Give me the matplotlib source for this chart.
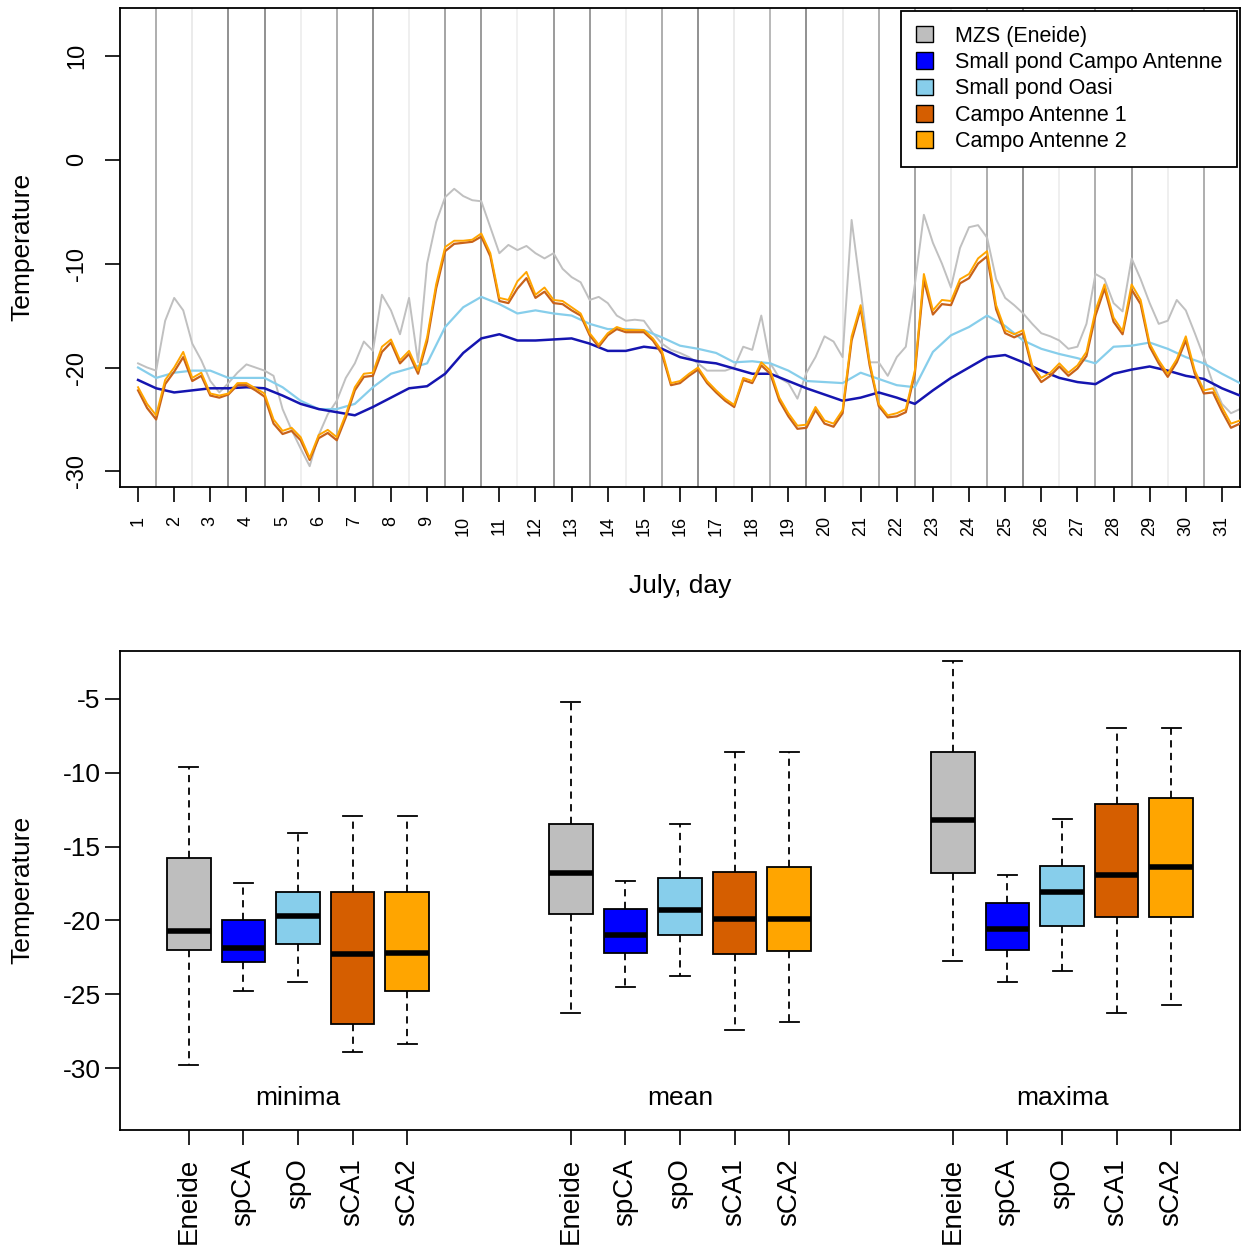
import numpy as np
import matplotlib.pyplot as plt
from matplotlib.patches import Patch

plt.rcParams['font.family'] = ['Liberation Sans', 'DejaVu Sans']

# July series, quarter-day samples starting on day 1
mzs = [-19.6, -20.0, -20.3, -15.5, -13.3, -14.5, -17.7, -19.3,
       -21.3, -22.4, -21.5, -20.5, -19.7, -20.0, -20.3, -20.8,
       -24.0, -26.0, -27.8, -29.5, -26.5, -24.5, -23.2, -21.0,
       -19.6, -17.5, -18.4, -13.0, -14.5, -16.8, -13.3, -19.5,
       -10.0, -6.0, -3.6, -2.8, -3.5, -3.9, -4.0, -6.5,
       -9.0, -8.2, -8.7, -8.3, -9.0, -9.5, -9.0, -10.5,
       -11.3, -11.8, -13.5, -13.2, -13.8, -15.0, -15.5, -15.4,
       -15.5, -16.7, -17.7, -18.3, -18.6, -19.0, -19.6, -20.3,
       -20.3, -20.3, -20.0, -18.0, -18.3, -15.0, -19.6, -21.0,
       -21.5, -23.0, -20.5, -19.0, -17.0, -17.5, -19.0, -5.8,
       -12.5, -19.5, -19.5, -20.8, -19.0, -18.0, -12.0, -5.3,
       -8.0, -10.0, -12.3, -8.5, -6.5, -6.3, -7.5, -11.5,
       -13.3, -14.0, -14.8, -15.8, -16.7, -17.0, -17.4, -18.2,
       -18.0, -15.8, -11.0, -11.5, -13.8, -14.6, -9.5, -11.5,
       -13.8, -15.8, -15.5, -13.5, -14.5, -16.7, -19.0, -21.5,
       -23.5, -24.4, -24.0]
ca1 = [-22.2, -23.9, -25.0, -21.6, -20.4, -19.0, -21.3, -20.8,
       -22.7, -22.9, -22.6, -21.7, -21.7, -22.2, -22.8, -25.4,
       -26.4, -26.1, -27.0, -28.9, -26.8, -26.3, -27.0, -24.8,
       -22.2, -20.9, -20.8, -18.5, -17.6, -19.6, -18.7, -20.6,
       -17.5, -12.4, -8.8, -8.1, -8.0, -7.9, -7.4, -9.3,
       -13.6, -13.8, -12.4, -11.4, -13.3, -12.7, -13.8, -13.9,
       -14.5, -15.0, -16.9, -18.0, -16.9, -16.3, -16.6, -16.6,
       -16.6, -17.4, -18.7, -21.7, -21.5, -20.8, -20.2, -21.5,
       -22.4, -23.2, -23.8, -21.2, -21.5, -19.8, -20.6, -23.2,
       -24.7, -25.9, -25.8, -24.1, -25.4, -25.7, -24.4, -17.4,
       -14.3, -19.8, -23.7, -24.8, -24.7, -24.3, -20.6, -11.6,
       -14.9, -13.9, -14.0, -11.9, -11.4, -10.0, -9.3, -14.4,
       -16.7, -17.1, -16.7, -20.1, -21.4, -20.8, -19.9, -20.8,
       -20.1, -18.9, -15.0, -12.4, -15.6, -16.8, -12.5, -13.9,
       -18.0, -19.6, -20.9, -19.5, -17.4, -20.6, -22.5, -22.4,
       -24.2, -25.8, -25.4]
ca2 = [-21.9, -23.5, -24.6, -21.2, -20.0, -18.5, -21.0, -20.5,
       -22.5, -22.7, -22.5, -21.5, -21.5, -22.0, -22.5, -25.0,
       -26.1, -25.8, -26.7, -28.7, -26.5, -26.0, -26.7, -24.5,
       -21.9, -20.6, -20.5, -18.0, -17.3, -19.3, -18.4, -20.3,
       -17.1, -12.0, -8.4, -7.8, -7.8, -7.7, -7.1, -9.0,
       -13.3, -13.5, -11.7, -10.8, -13.0, -12.3, -13.5, -13.6,
       -14.2, -14.8, -16.7, -17.8, -16.7, -16.1, -16.4, -16.4,
       -16.4, -17.2, -18.4, -21.5, -21.3, -20.6, -20.0, -21.3,
       -22.2, -23.0, -23.6, -21.0, -21.3, -19.5, -20.3, -22.9,
       -24.4, -25.6, -25.5, -23.8, -25.1, -25.4, -24.1, -17.0,
       -14.0, -19.5, -23.5, -24.6, -24.4, -24.0, -20.3, -11.0,
       -14.5, -13.5, -13.6, -11.5, -11.0, -9.5, -8.8, -14.0,
       -16.4, -16.8, -16.4, -19.8, -21.0, -20.5, -19.6, -20.5,
       -19.8, -18.5, -14.5, -12.0, -15.2, -16.5, -12.0, -13.5,
       -17.7, -19.3, -20.6, -19.2, -17.0, -20.3, -22.2, -22.0,
       -23.8, -25.4, -25.1]

# small ponds, half-day samples starting on day 1
sp_campo = [-21.2, -22.0, -22.4, -22.2, -22.0, -22.0, -21.9, -22.0,
            -22.7, -23.5, -24.0, -24.3, -24.6, -23.8, -22.9, -22.0,
            -21.8, -20.6, -18.6, -17.2, -16.8, -17.4, -17.4, -17.3,
            -17.2, -17.7, -18.4, -18.4, -18.0, -18.2, -19.0, -19.4,
            -19.6, -20.1, -20.6, -20.6, -21.3, -22.0, -22.6, -23.2,
            -22.9, -22.4, -22.9, -23.5, -22.2, -21.0, -20.0, -19.0,
            -18.8, -19.5, -20.3, -21.0, -21.4, -21.6, -20.6, -20.2,
            -19.9, -20.3, -20.8, -21.1, -22.0, -22.7]
sp_oasi = [-20.0, -21.0, -20.5, -20.3, -20.3, -21.0, -21.0, -21.0,
           -21.9, -23.2, -24.0, -24.0, -23.5, -21.9, -20.6, -20.1,
           -19.6, -16.1, -14.2, -13.2, -13.9, -14.8, -14.5, -14.8,
           -15.0, -15.8, -16.3, -16.3, -16.4, -17.1, -17.9, -18.2,
           -18.6, -19.5, -19.4, -19.6, -20.3, -21.3, -21.4, -21.5,
           -20.5, -21.1, -21.7, -21.9, -18.5, -16.9, -16.1, -15.0,
           -16.0, -17.4, -18.2, -18.7, -19.1, -19.6, -18.0, -17.9,
           -17.6, -18.2, -19.0, -19.6, -20.6, -21.5]

# grey level of the separator drawn after each day (1..30)
sep_grey = [0.6, 0.9, 0.45, 0.45, 0.92, 0.6, 0.45, 0.92, 0.55, 0.5,
            0.93, 0.5, 0.5, 0.92, 0.6, 0.45, 0.9, 0.65, 0.45, 0.9,
            0.6, 0.55, 0.9, 0.6, 0.45, 0.92, 0.6, 0.5, 0.92, 0.6]

days = list(range(1, 32))

series_names = ['MZS (Eneide)', 'Small pond Campo Antenne', 'Small pond Oasi',
                'Campo Antenne 1', 'Campo Antenne 2']
fill_colors = ['#BEBEBE', '#0000FF', '#87CEEB', '#D55E00', '#FFA500']

# boxplot summaries: whisker low, Q1, median, Q3, whisker high
sites = ['Eneide', 'spCA', 'spO', 'sCA1', 'sCA2']
groups = ['minima', 'mean', 'maxima']
minima = [[-29.8, -22.0, -20.7, -15.8, -9.6],
          [-24.8, -22.8, -21.9, -20.0, -17.5],
          [-24.2, -21.6, -19.7, -18.1, -14.1],
          [-28.9, -27.0, -22.3, -18.1, -12.9],
          [-28.4, -24.8, -22.2, -18.1, -12.9]]
means = [[-26.3, -19.6, -16.8, -13.5, -5.2],
         [-24.5, -22.2, -21.0, -19.2, -17.3],
         [-23.8, -21.0, -19.3, -17.1, -13.5],
         [-27.4, -22.3, -19.9, -16.7, -8.6],
         [-26.9, -22.1, -19.9, -16.4, -8.6]]
maxima = [[-22.75, -16.8, -13.2, -8.6, -2.4],
          [-24.2, -22.0, -20.6, -18.8, -16.9],
          [-23.4, -20.4, -18.1, -16.3, -13.1],
          [-26.3, -19.8, -16.9, -12.1, -7.0],
          [-25.7, -19.8, -16.4, -11.7, -7.0]]

W, H = 1241, 1251
fig = plt.figure(figsize=(W / 100, H / 100), dpi=100)
ax1 = fig.add_axes([120 / W, 1 - 487 / H, 1120 / W, 479 / H])
ax2 = fig.add_axes([120 / W, 1 - 1130 / H, 1120 / W, 479 / H])

# ---- top: time series
t4 = 1 + np.arange(len(mzs)) / 4
t2 = 1 + np.arange(len(sp_campo)) / 2

for d, g in zip(days[:-1], sep_grey):
    ax1.axvline(d + 0.5, color=str(g), lw=1.1, zorder=1)

ax1.plot(t4, mzs, color='#C0C0C0', lw=1.4, zorder=2)
ax1.plot(t2, sp_oasi, color='#87CEEB', lw=1.6, zorder=3)
ax1.plot(t2, sp_campo, color='#1515B0', lw=1.8, zorder=3)
ax1.plot(t4, ca1, color='#C8621A', lw=1.6, zorder=4)
ax1.plot(t4, ca2, color='#FFA500', lw=1.4, zorder=5)

ax1.set_xlim(0.5, 31.5)
ax1.set_ylim(-31.5, 14.6)
ax1.set_xticks(days)
ax1.set_xticklabels([str(d) for d in days], rotation=90)
ax1.set_yticks([-30, -20, -10, 0, 10])
ax1.set_yticklabels(['-30', '-20', '-10', '0', '10'], rotation=90, va='center')
ax1.tick_params(axis='x', labelsize=13, length=11, width=1.2, pad=10)
ax1.tick_params(axis='y', labelsize=17, length=11, width=1.2, pad=12)

handles = [Patch(facecolor=c, edgecolor='black', lw=1) for c in fill_colors]
leg = ax1.legend(handles, series_names, loc='upper right', fontsize=15.5,
                 handlelength=0.8, handleheight=0.8, handletextpad=1.0,
                 labelspacing=0.25, borderpad=0.7, borderaxespad=0.12,
                 fancybox=False, framealpha=1, edgecolor='black')
leg.get_frame().set_linewidth(1.3)

# ---- bottom: boxplots
stats, positions, colors = [], [], []
for gi, table in enumerate([minima, means, maxima]):
    for si, row in enumerate(table):
        lo, q1, med, q3, hi = row
        stats.append(dict(whislo=lo, q1=q1, med=med, q3=q3, whishi=hi, fliers=[]))
        positions.append(gi * 7 + si + 1)
        colors.append(fill_colors[si])

bp = ax2.bxp(stats, positions=positions, widths=0.8, patch_artist=True,
             showfliers=False, capwidths=0.35,
             boxprops=dict(edgecolor='black', lw=1.3),
             whiskerprops=dict(color='black', lw=1.3, ls=(0, (4, 3))),
             capprops=dict(color='black', lw=1.3),
             medianprops=dict(color='black', lw=4, solid_capstyle='butt'))
for box, c in zip(bp['boxes'], colors):
    box.set_facecolor(c)

for gi, name in enumerate(groups):
    ax2.text(gi * 7 + 3, -32.0, name, ha='center', va='center', fontsize=19)

ax2.set_xlim(-0.26, 20.26)
ax2.set_ylim(-34.2, -1.75)
ax2.set_xticks(positions)
ax2.set_xticklabels(sites * 3, rotation=90)
ax2.set_yticks([-30, -25, -20, -15, -10, -5])
ax2.set_yticklabels(['-30', '-25', '-20', '-15', '-10', '-5'])
ax2.tick_params(axis='x', labelsize=20, length=11, width=1.2, pad=9)
ax2.tick_params(axis='y', labelsize=19, length=11, width=1.2, pad=3)

for ax in (ax1, ax2):
    for s in ax.spines.values():
        s.set_linewidth(1.3)

fig.text(22 / W, 1 - 247 / H, 'Temperature', rotation=90, ha='center', va='center', fontsize=19)
fig.text(22 / W, 1 - 890 / H, 'Temperature', rotation=90, ha='center', va='center', fontsize=19)
fig.text(680 / W, 1 - 586 / H, 'July, day', ha='center', va='center', fontsize=19)

fig.savefig('out.png', dpi=100)
